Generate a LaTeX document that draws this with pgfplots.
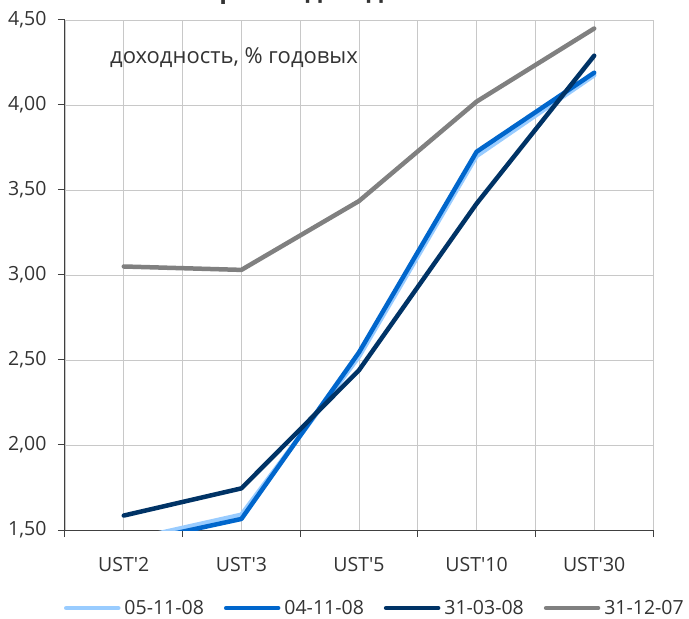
\documentclass[border=0pt]{standalone}
\usepackage{fontspec}
\setmainfont{Open Sans}
\usepackage{pgfplots}
\pgfplotsset{compat=1.18}
\definecolor{cLight}{HTML}{99CCFF}
\definecolor{cBlue}{HTML}{0066CC}
\definecolor{cNavy}{HTML}{003366}
\definecolor{cGrey}{HTML}{808080}
\definecolor{cText}{HTML}{333333}
\definecolor{cAxis}{HTML}{404040}
\definecolor{cGrid}{HTML}{C8C8C8}
\begin{document}
\begin{tikzpicture}[font=\fontsize{19.5bp}{23bp}\selectfont]
\useasboundingbox (-65bp,-89bp) rectangle (624bp,530bp);
\node[anchor=base, inner sep=0, text=cText, font=\fontsize{25bp}{29bp}\selectfont\bfseries] at (293bp,531bp) {Кривая доходности UST};
\begin{axis}[
  at={(0,0)}, anchor=south west,
  scale only axis, width=588bp, height=510bp,
  xmin=-0.5, xmax=4.5, ymin=1.5, ymax=4.5,
  xtick={0,1,2,3,4},
  xticklabels={UST\textquotesingle 2,UST\textquotesingle 3,UST\textquotesingle 5,UST\textquotesingle 10,UST\textquotesingle 30},
  minor xtick={-0.5,0.5,1.5,2.5,3.5,4.5},
  ytick={1.5,2,2.5,3,3.5,4,4.5},
  axis x line=bottom, axis y line=left,
  axis line style={cAxis, line width=1bp, -},
  x axis line style={-}, y axis line style={-},
  tick align=outside,
  major tick length=7bp, minor tick length=7bp,
  x tick style={draw=none},
  minor x tick style={draw=cAxis, line width=1bp},
  y tick style={cAxis, line width=1bp},
  xmajorgrids, xminorgrids, ymajorgrids,
  grid style={cGrid, line width=0.8bp},
  minor grid style={cGrid, line width=0.8bp},
  xticklabel style={text=cText, yshift=-17bp},
  yticklabel style={text=cText, xshift=-8bp},
  /pgf/number format/.cd, fixed, fixed zerofill, precision=2, use comma, assume math mode=true,
  /pgfplots/.cd,
  legend columns=4,
  legend style={draw=none, fill=none, at={(0.527,-0.153)}, anchor=center,
    text=cText, inner sep=0pt,
    /tikz/every odd column/.append style={column sep=2bp},
    /tikz/every even column/.append style={column sep=18bp}},
  legend cell align=left,
  legend image code/.code={\draw[#1, line width=4.5bp, line cap=round] (0bp,0bp) -- (52bp,0bp);},
  every axis plot/.append style={line width=4.5bp, line join=round},
]
\addplot[cLight, line cap=round] coordinates {(0,1.435) (1,1.59) (2,2.52) (3,3.70) (4,4.175)};
\addlegendentry{05-11-08}
\addplot[cBlue, line cap=round] coordinates {(0,1.415) (1,1.565) (2,2.545) (3,3.725) (4,4.19)};
\addlegendentry{04-11-08}
\addplot[cNavy, line cap=round] coordinates {(0,1.585) (1,1.745) (2,2.44) (3,3.42) (4,4.29)};
\addlegendentry{31-03-08}
\addplot[cGrey, line cap=round] coordinates {(0,3.05) (1,3.03) (2,3.435) (3,4.02) (4,4.45)};
\addlegendentry{31-12-07}
\node[anchor=west, inner sep=0, text=cText, font=\fontsize{22bp}{26bp}\selectfont] at (rel axis cs:0.0765,0.927) {доходность, \% годовых};
\end{axis}
\end{tikzpicture}
\end{document}
